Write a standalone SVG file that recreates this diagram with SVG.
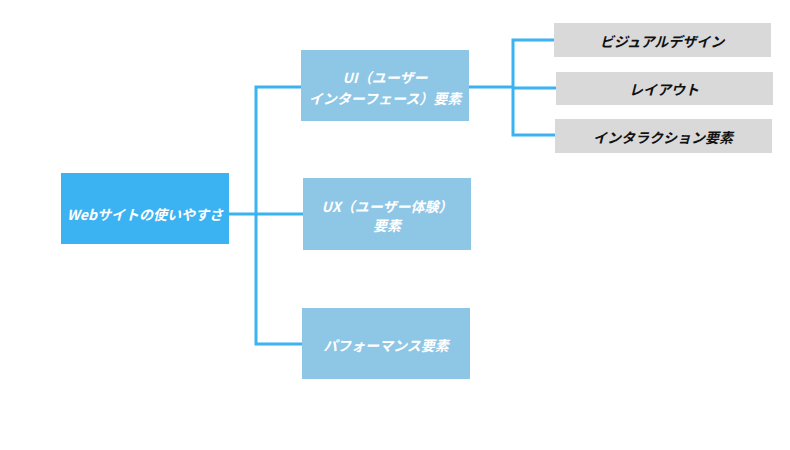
<svg xmlns="http://www.w3.org/2000/svg" width="790" height="450" viewBox="0 0 790 450">
<style>
text{font-family:"Noto Sans CJK JP","Liberation Sans",sans-serif;font-size:14px;font-weight:bold;font-style:italic;text-anchor:middle;dominant-baseline:central}
.w{fill:#ffffff}
.b{fill:#111111}
.root{fill:#3BB2F2}
.mid{fill:#8EC6E6}
.leaf{fill:#D9D9D9}
.c{fill:none;stroke:#3BB2F2;stroke-width:3}
</style>
<rect width="790" height="450" fill="#ffffff"/>
<g id="connectors">
<path class="c" d="M229,214 H303"/>
<path class="c" d="M301,87 H256 V344 H302"/>
<path class="c" d="M469,87 H513"/>
<path class="c" d="M554,40 H513 V135 H555"/>
<path class="c" d="M513,88 H556"/>
</g>
<g id="root">
<rect class="root" x="61" y="173" width="168" height="71"/>
<text class="w" x="145" y="214">Webサイトの使いやすさ</text>
</g>
<g id="ui">
<rect class="mid" x="301" y="50" width="168" height="71"/>
<text class="w" x="385" y="77">UI（ユーザー</text>
<text class="w" x="385" y="98">インターフェース）要素</text>
</g>
<g id="ux">
<rect class="mid" x="303" y="178" width="168" height="72"/>
<text class="w" x="387" y="206">UX（ユーザー体験）</text>
<text class="w" x="387" y="225">要素</text>
</g>
<g id="perf">
<rect class="mid" x="302" y="308" width="168" height="71"/>
<text class="w" x="386" y="345">パフォーマンス要素</text>
</g>
<g id="visual">
<rect class="leaf" x="554" y="23" width="217" height="34"/>
<text class="b" x="662" y="41">ビジュアルデザイン</text>
</g>
<g id="layout">
<rect class="leaf" x="556" y="72" width="217" height="33"/>
<text class="b" x="664" y="89">レイアウト</text>
</g>
<g id="interaction">
<rect class="leaf" x="555" y="119" width="217" height="34"/>
<text class="b" x="663" y="137">インタラクション要素</text>
</g>
</svg>
